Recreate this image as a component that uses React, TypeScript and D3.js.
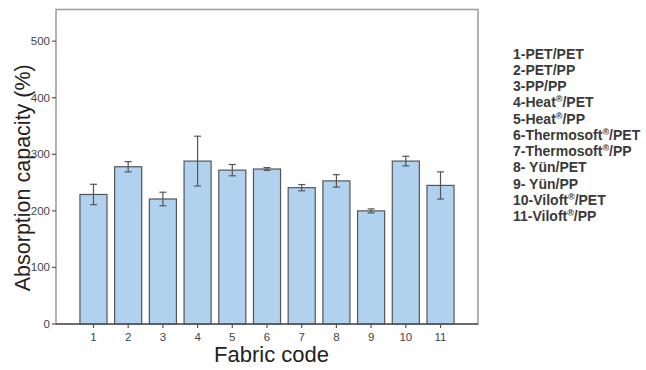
import * as d3 from "d3"

const codes = ["1", "2", "3", "4", "5", "6", "7", "8", "9", "10", "11"]
const means = [229, 278, 221, 288, 272, 274, 241, 253, 200, 288, 245]
const errs = [18, 9, 12, 44, 10, 2.5, 5.5, 11, 3.5, 8.5, 24]
const yTicks = [0, 100, 200, 300, 400, 500]
const legendItems = [
  ["1-PET/PET", "", ""],
  ["2-PET/PP", "", ""],
  ["3-PP/PP", "", ""],
  ["4-Heat", "®", "/PET"],
  ["5-Heat", "®", "/PP"],
  ["6-Thermosoft", "®", "/PET"],
  ["7-Thermosoft", "®", "/PP"],
  ["8- Yün/PET", "", ""],
  ["9- Yün/PP", "", ""],
  ["10-Viloft", "®", "/PET"],
  ["11-Viloft", "®", "/PP"],
]

const width = 646
const height = 370
const left = 56, right = 478, top = 9.5, bottom = 324

export default function App() {
  const x = d3.scaleBand().domain(codes).range([left, right]).paddingInner(0.22).paddingOuter(0.69)
  const y = d3.scaleLinear().domain([0, 556]).range([bottom, top])
  const font = "Arial, 'Liberation Sans', sans-serif"

  return (
    <svg width={width} height={height} style={{ position: "absolute", left: 0, top: 0, background: "#fff" }} fontFamily={font}>
      {/* frame */}
      <rect x={left} y={top} width={right - left} height={bottom - top} fill="none" stroke="#a0a0a0" strokeWidth={1.6} />

      {/* bars */}
      {codes.map((c, i) => (
        <rect key={c} x={x(c)} y={y(means[i])} width={x.bandwidth()} height={y(0) - y(means[i])}
          fill="#b0d2ef" stroke="#555" strokeWidth={1.2} />
      ))}

      {/* error bars */}
      {codes.map((c, i) => {
        const cx = x(c) + x.bandwidth() / 2
        const y1 = y(means[i] + errs[i]), y2 = y(means[i] - errs[i])
        return (
          <g key={c} stroke="#555" strokeWidth={1.2}>
            <line x1={cx} x2={cx} y1={y1} y2={y2} />
            <line x1={cx - 3.5} x2={cx + 3.5} y1={y1} y2={y1} />
            <line x1={cx - 3.5} x2={cx + 3.5} y1={y2} y2={y2} />
          </g>
        )
      })}

      {/* x axis line */}
      <line x1={left} x2={right} y1={bottom} y2={bottom} stroke="#555" strokeWidth={1.3} />

      {/* y ticks */}
      {yTicks.map(t => (
        <g key={t}>
          <line x1={left - 4} x2={left} y1={y(t)} y2={y(t)} stroke="#555" strokeWidth={1.2} />
          <text x={left - 6} y={y(t)} dy="0.35em" textAnchor="end" fontSize={11.5} fill="#444">{t}</text>
        </g>
      ))}

      {/* x ticks */}
      {codes.map(c => {
        const cx = x(c) + x.bandwidth() / 2
        return (
          <g key={c}>
            <line x1={cx} x2={cx} y1={bottom} y2={bottom + 4} stroke="#555" strokeWidth={1.2} />
            <text x={cx} y={341} textAnchor="middle" fontSize={11.5} fill="#444">{c}</text>
          </g>
        )
      })}

      {/* axis titles */}
      <text transform={`translate(30,${(top + bottom) / 2 + 11}) rotate(-90)`} textAnchor="middle" fontSize={21.5} fill="#222">
        Absorption capacity (%)
      </text>
      <text x={271.5} y={362} textAnchor="middle" fontSize={22} fill="#222">Fabric code</text>

      {/* legend */}
      {legendItems.map((d, i) => (
        <text key={i} x={513} y={58.5 + i * 16.27} fontSize={14} fontWeight="bold" fill="#3a3a3a">
          {d[0]}
          {d[1] && <tspan fontSize={9} dy={-5}>{d[1]}</tspan>}
          {d[2] && <tspan dy={5}>{d[2]}</tspan>}
        </text>
      ))}
    </svg>
  )
}
